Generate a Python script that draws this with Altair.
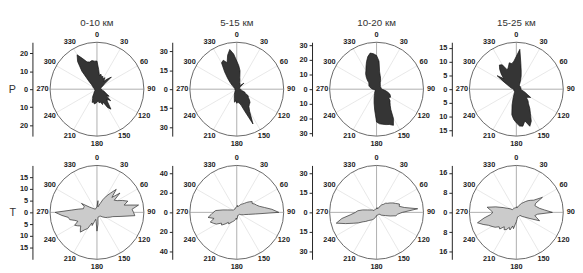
import altair as alt
import pandas as pd

# ---------------- data ----------------
angles = list(range(0, 360, 5))
col_titles = ["0-10 км", "5-15 км", "10-20 км", "15-25 км"]
row_labels = ["P", "T"]
scale_max = [[26, 37, 32, 17], [20, 48, 36, 19]]
tick_values = [
    [[10, 20], [15, 30], [10, 20, 30], [5, 10, 15]],
    [[5, 10, 15], [20, 40], [15, 30], [8, 16]],
]
label_angles = list(range(0, 360, 30))

# rose values every 5 degrees (rows of 60 degrees)
p_0_10 = [15.6, 10.9, 7.8, 8.6, 7.3, 7.8, 6.5, 7.8, 5.7, 7.8, 10.4, 5.2,
          3.9, 3.1, 2.6, 2.1, 2.1, 2.3, 2.6, 2.6, 3.1, 3.9, 4.7, 5.7,
          7.8, 6.5, 9.9, 7.8, 9.1, 13.5, 11.7, 7.8, 9.1, 7.3, 7.8, 6.5,
          7.3, 7.8, 8.3, 7.3, 7.8, 5.7, 4.7, 3.1, 2.6, 2.1, 1.6, 1.4,
          1.3, 1.3, 1.3, 1.3, 1.3, 1.3, 1.4, 1.4, 1.6, 1.8, 2.1, 2.3,
          2.6, 3.1, 3.9, 6.5, 13, 18.7, 22, 18.7, 16.1, 15.6, 16.1, 15.6]
p_5_15 = [22.2, 18.5, 14.8, 9.3, 7.4, 5.6, 5.2, 4.4, 3.7, 4.8, 7.4, 3.7,
          3, 2.6, 2.6, 2.2, 2.2, 2.6, 3, 3.3, 3.7, 4.4, 6.7, 7.4,
          10.4, 11.1, 13, 14.8, 15.5, 16.7, 20.4, 30.3, 18.5, 13, 11.1, 10.4,
          11.1, 9.3, 10.4, 7.4, 5.6, 4.4, 3.3, 2.6, 2.2, 1.8, 1.5, 1.5,
          1.5, 1.5, 1.5, 1.5, 1.5, 1.5, 1.5, 1.5, 1.5, 1.5, 1.8, 2.2,
          2.6, 3.3, 4.8, 7.4, 11.1, 16.7, 24, 25.2, 22.2, 27.8, 31.8, 27.8]
p_10_20 = [23, 19.2, 12, 9.6, 8, 6.4, 5, 4.5, 4, 3.8, 3.2, 3.2,
           3.2, 3.2, 3.2, 3.2, 3.2, 3.5, 3.8, 4.8, 6.4, 8, 9.6, 10.4,
           11, 10, 12, 13, 14.5, 17, 23, 27.2, 25.6, 25, 24.3, 23.7,
           22.4, 14.4, 9.6, 6.4, 4.5, 3.2, 2.6, 1.9, 1.6, 1.3, 1.3, 1.3,
           1.3, 1.3, 1.3, 1.3, 1.3, 1.9, 2.6, 3.2, 3.8, 4.5, 5.2, 5.8,
           6, 6.4, 7, 9, 11, 13, 14.5, 17, 20, 23, 25, 24.3]
p_15_25 = [11.9, 14.5, 9.4, 6.8, 5.1, 3.7, 2.6, 2, 1.7, 1.7, 1.7, 1.7,
           1.7, 1.7, 1.7, 1.7, 1.7, 1.7, 1.7, 1.7, 2, 2.6, 3.4, 4.3,
           6, 5.1, 4.8, 6, 6.8, 8.5, 10.2, 12.8, 14.3, 11.9, 13.6, 13.4,
           12.2, 11, 9.4, 6, 3.4, 2, 1.4, 1.2, 1, 1, 1, 1,
           1, 1, 1, 1, 1, 1, 1, 1, 1.7, 2, 2.6, 3.4,
           5.1, 8.5, 6, 7.7, 9.4, 10.7, 10.2, 7.7, 8.5, 9.9, 9.4, 10.2]

t_0_10 = [2.4, 5, 2.4, 3, 4, 6, 8, 10, 12.8, 9, 12.8, 9,
          10, 12, 14, 12, 18, 15, 15.6, 16.2, 10, 7, 6, 5,
          4.4, 3.6, 3, 2.4, 2, 2, 2, 2, 2, 2, 2.4, 5,
          8, 4, 3, 4, 6, 5, 8, 9, 11, 10, 9, 10,
          11, 9, 10, 12, 12.4, 15, 17.8, 11, 8, 6, 6, 6,
          7.6, 4, 3, 2.4, 2, 1.8, 1.6, 1.6, 1.6, 1.8, 2, 2]
t_5_15 = [5.8, 7.2, 5.8, 6.7, 7.2, 8.6, 9.6, 10.6, 12, 14.4, 16.8, 19.2,
          18.2, 20.2, 21.6, 24, 28.8, 36, 43, 19.2, 12, 8.6, 7.2, 5.8,
          4.8, 3.4, 3.4, 3.4, 3.4, 3.4, 3.4, 3.4, 3.4, 3.4, 4.8, 5.8,
          7.2, 5.8, 7.2, 8.6, 9.6, 10.6, 12, 14.4, 13.4, 16.8, 20.2, 19.2,
          24, 26.4, 28.8, 24, 29.8, 26.4, 24, 21.6, 14.4, 9.6, 7.2, 5.8,
          4.8, 4.3, 3.8, 3.8, 3.8, 3.8, 3.8, 4.3, 4.3, 4.8, 4.8, 5.3]
t_10_20 = [2.9, 3.6, 2.9, 3.6, 3.2, 4.3, 5.4, 7.2, 7.9, 10, 10.8, 12.6,
           14.4, 16.2, 18.7, 18, 21.6, 31.7, 19.8, 16.2, 15.1, 10.8, 7.2, 5.4,
           4.3, 2.2, 2.2, 2.2, 2.2, 2.2, 2.2, 2.2, 2.2, 2.2, 2.2, 2.2,
           2.9, 2.9, 3.6, 4.3, 5, 5.8, 6.5, 7.2, 7.9, 9, 10.8, 12.6,
           16.2, 19.8, 25.2, 32, 27, 19.8, 16.2, 14.4, 10.8, 7.2, 5.4, 4.3,
           3.6, 2.5, 2.5, 2.5, 2.5, 2.5, 2.5, 2.5, 2.5, 2.5, 2.5, 2.5]
t_15_25 = [1.9, 2.3, 1.9, 2.3, 2.9, 3.4, 4.2, 4.8, 5.7, 6.7, 7.6, 8.6,
           12.2, 8.6, 8, 8.6, 9.5, 11.4, 14.6, 8.6, 7.6, 8.6, 10, 5.7,
           3.8, 2.9, 1.9, 1.9, 1.9, 1.9, 1.9, 1.9, 1.9, 1.9, 2.3, 2.9,
           3.8, 4.8, 6.7, 5.7, 7.6, 6.7, 8, 8.6, 7.6, 9.5, 9.1, 10.5,
           11.4, 12.4, 14.3, 16.3, 13.3, 10.5, 9.5, 10.5, 12, 8.6, 5.7, 3.8,
           2.9, 1.9, 1.9, 1.9, 1.9, 1.9, 1.9, 1.9, 1.9, 1.9, 1.9, 1.9]

rose_values = [[p_0_10, p_5_15, p_10_20, p_15_25], [t_0_10, t_5_15, t_10_20, t_15_25]]
rose_fill = ["#353535", "#cbcbcb"]
rose_stroke = ["#111111", "#2a2a2a"]

FONT = "Liberation Sans"
SIZE = 96


def panel(row, col):
    R = scale_max[row][col]
    vals = rose_values[row][col]
    ticks = tick_values[row][col]

    rose_df = pd.DataFrame({
        "angle": angles + [360],
        "value": vals + [vals[0]],
        "order": list(range(len(vals) + 1)),
    })
    minor_df = pd.DataFrame({"angle": [a for a in label_angles if a % 90 != 0]})
    major_df = pd.DataFrame({"angle": [a for a in label_angles if a % 90 == 0]})
    label_df = pd.DataFrame({"angle": label_angles,
                             "label": [str(a) for a in label_angles]})
    center_df = pd.DataFrame({"cx": [0], "cy": [0]})

    xscale = alt.Scale(domain=[-R, R], nice=False, zero=False)
    yscale = alt.Scale(domain=[-R, R], nice=False, zero=False)

    axis_kw = dict(
        values=sorted([-t for t in ticks] + [0] + ticks),
        labelExpr="abs(datum.value)",
        offset=18, grid=False, domain=True, ticks=True, labels=True,
        domainColor="#222", domainWidth=1,
        tickColor="#222", tickSize=3,
        labelFont=FONT, labelFontSize=7.5, labelFontWeight="bold", labelColor="#222",
        labelPadding=2,
    )
    if col == 0:
        axis_kw.update(
            title=row_labels[row], titleAngle=0, titleFont=FONT, titleFontSize=11,
            titleFontWeight="normal", titleColor="#333", titleAlign="right",
            titleBaseline="middle", titlePadding=4,
        )
    else:
        axis_kw.update(title="")
    yaxis = alt.Axis(**axis_kw)
    xaxis = None

    def spokes(df, color):
        return alt.Chart(df).transform_calculate(
            x0="0", y0="0",
            x1=f"{R}*sin(datum.angle*PI/180)",
            y1=f"{R}*cos(datum.angle*PI/180)",
        ).mark_rule(strokeWidth=0.8, color=color).encode(
            x=alt.X("x0:Q", scale=xscale, axis=xaxis),
            y=alt.Y("y0:Q", scale=yscale, axis=yaxis),
            x2="x1:Q", y2="y1:Q",
        )

    circle = alt.Chart(center_df).mark_point(
        shape="circle", size=SIZE * SIZE, filled=False, stroke="#666", strokeWidth=1, opacity=1
    ).encode(
        x=alt.X("cx:Q", scale=xscale, axis=xaxis),
        y=alt.Y("cy:Q", scale=yscale, axis=yaxis),
    )

    rose = alt.Chart(rose_df).transform_calculate(
        x="datum.value*sin(datum.angle*PI/180)",
        y="datum.value*cos(datum.angle*PI/180)",
    ).mark_line(
        fill=rose_fill[row], stroke=rose_stroke[row], strokeWidth=0.7, strokeJoin="miter"
    ).encode(
        x=alt.X("x:Q", scale=xscale, axis=xaxis),
        y=alt.Y("y:Q", scale=yscale, axis=yaxis),
        order="order:Q",
    )

    labels = alt.Chart(label_df).transform_calculate(
        lx=f"{R}*1.16*sin(datum.angle*PI/180)",
        ly=f"{R}*1.16*cos(datum.angle*PI/180)",
    ).mark_text(
        font=FONT, fontSize=7.5, fontWeight="bold", fill="#222", align="center", baseline="middle"
    ).encode(
        x=alt.X("lx:Q", scale=xscale, axis=xaxis),
        y=alt.Y("ly:Q", scale=yscale, axis=yaxis),
        text="label:N",
    )

    layer = alt.layer(
        spokes(minor_df, "#e2e2e2"), spokes(major_df, "#9a9a9a"),
        circle, rose, labels,
    ).properties(width=SIZE, height=SIZE)
    if row == 0:
        layer = layer.properties(title=alt.TitleParams(
            col_titles[col], font=FONT, fontSize=10, fontWeight="normal", color="#333", offset=3))
    return layer


panels = [panel(r, c) for r in range(2) for c in range(4)]

chart = alt.concat(
    *panels, columns=4, spacing={"row": 30, "column": 47}, bounds="flush"
).properties(
    padding={"left": 0, "top": 7, "right": 0, "bottom": 0},
).configure_view(strokeWidth=0)

chart.save("out.html", embed_options={"renderer": "svg", "actions": False})
